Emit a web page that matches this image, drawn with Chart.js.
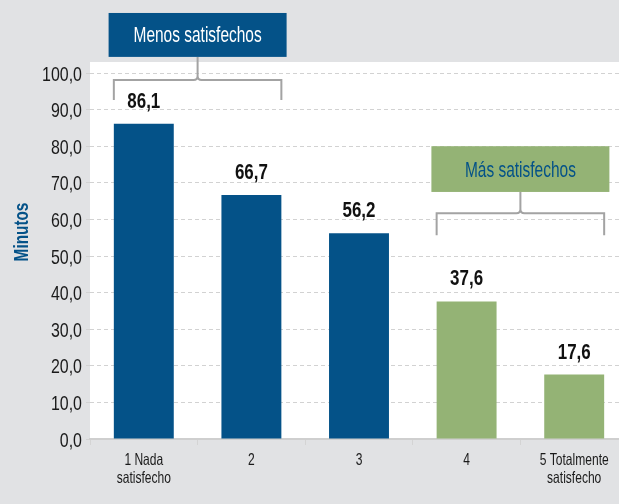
<!DOCTYPE html>
<html>
<head>
<meta charset="utf-8">
<script src="https://cdn.jsdelivr.net/npm/chart.js@4/dist/chart.umd.min.js"></script>
<style>
  html, body { margin: 0; padding: 0; background: #e1e2e4; overflow: hidden; }
  #wrap { width: 619px; height: 504px; overflow: hidden; }
  canvas { display: block; }
</style>
</head>
<body>
<div id="wrap"><canvas id="c" width="629" height="504"></canvas></div>
<script>
// Minutos por nivel de satisfacción
const categories = [["1 Nada", "satisfecho"], "2", "3", "4", ["5 Totalmente", "satisfecho"]];
const minutos = [86.1, 66.7, 56.2, 37.6, 17.6];
const yTicks = [0, 10, 20, 30, 40, 50, 60, 70, 80, 90, 100];
const groupLabels = ["Menos satisfechos", "Más satisfechos"];
const groupFirst = [0, 3];
const groupLast = [1, 4];

const BLUE = "#045288";
const GREEN = "#94b375";
const FONT = "'Liberation Sans', Arial, sans-serif";

const fmt = v => v.toFixed(1).replace(".", ",");

// condensed text: Liberation Sans squeezed horizontally
function narrowText(ctx, text, x, y, font, sx, align) {
  ctx.save();
  ctx.translate(x, y);
  ctx.scale(sx, 1);
  ctx.font = font;
  ctx.textAlign = align || "center";
  ctx.textBaseline = "alphabetic";
  ctx.fillText(text, 0, 0);
  ctx.restore();
}

const panel = {
  id: "panel",
  beforeDraw(chart) {
    const { ctx, chartArea: a, width, height } = chart;
    ctx.save();
    ctx.fillStyle = "#e1e2e4";
    ctx.fillRect(0, 0, width, height);
    ctx.fillStyle = "#ffffff";
    ctx.fillRect(a.left, a.top - 11, width - a.left, a.bottom - a.top + 11);
    ctx.restore();
  }
};

const overlay = {
  id: "overlay",
  afterDraw(chart) {
    const { ctx } = chart;
    const x = chart.scales.x;
    const y = chart.scales.y;
    const bars = chart.getDatasetMeta(0).data;
    ctx.save();

    // y tick labels
    ctx.fillStyle = "#1a1a1a";
    y.ticks.forEach(t => {
      narrowText(ctx, fmt(t.value), 82, y.getPixelForValue(t.value) + 7.5, "21px " + FONT, 0.76, "right");
    });

    // x category labels
    categories.forEach((c, i) => {
      const lines = Array.isArray(c) ? c : [c];
      const cx = x.getPixelForTick(i);
      lines.forEach((ln, k) => narrowText(ctx, ln, cx, 465 + k * 18, "16.5px " + FONT, 0.73, "center"));
    });

    // value labels
    ctx.fillStyle = "#111";
    bars.forEach((b, i) => narrowText(ctx, fmt(minutos[i]), b.x, b.y - 16, "bold 22px " + FONT, 0.77, "center"));

    // group brackets + boxes
    const geo = [
      { boxTop: 116.4, boxBot: 104.4, bar: 98.1, end: 92.6, fill: BLUE, text: "#ffffff" },
      { boxTop: 80.0, boxBot: 67.5, bar: 61.7, end: 55.7, fill: GREEN, text: BLUE }
    ];
    groupLabels.forEach((label, g) => {
      const s = geo[g];
      const b0 = bars[groupFirst[g]], b1 = bars[groupLast[g]];
      const xl = b0.x - b0.width / 2, xr = b1.x + b1.width / 2;
      const xm = (xl + xr) / 2;
      const yBar = y.getPixelForValue(s.bar);
      const yEnd = y.getPixelForValue(s.end);
      const yTop = y.getPixelForValue(s.boxTop);
      const yBot = y.getPixelForValue(s.boxBot);

      ctx.strokeStyle = "#a3a3a3";
      ctx.lineWidth = 2;
      ctx.beginPath();
      ctx.moveTo(xl, yEnd);
      ctx.lineTo(xl, yBar);
      ctx.lineTo(xm - 4, yBar);
      ctx.quadraticCurveTo(xm, yBar, xm, yBar - 4);
      ctx.quadraticCurveTo(xm, yBar, xm + 4, yBar);
      ctx.lineTo(xr, yBar);
      ctx.lineTo(xr, yEnd);
      ctx.moveTo(xm, yBar - 4);
      ctx.lineTo(xm, yBot);
      ctx.stroke();

      const w = 178;
      ctx.fillStyle = s.fill;
      ctx.fillRect(xm - w / 2, yTop, w, yBot - yTop);
      ctx.fillStyle = s.text;
      narrowText(ctx, label, xm, (yTop + yBot) / 2 + 7.5, "21.5px " + FONT, 0.72, "center");
    });

    // axis title
    ctx.save();
    ctx.translate(28, 232);
    ctx.rotate(-Math.PI / 2);
    ctx.fillStyle = BLUE;
    narrowText(ctx, "Minutos", 0, 0, "bold 21px " + FONT, 0.73, "center");
    ctx.restore();

    ctx.restore();
  }
};

new Chart(document.getElementById("c"), {
  type: "bar",
  data: {
    labels: categories,
    datasets: [{
      data: minutos,
      backgroundColor: minutos.map((_, i) => i < 3 ? BLUE : GREEN),
      borderWidth: 0,
      categoryPercentage: 1,
      barPercentage: 0.557
    }]
  },
  options: {
    responsive: false,
    devicePixelRatio: 1,
    animation: false,
    layout: { padding: { left: 0, top: 73, right: 1, bottom: 0 } },
    plugins: { legend: { display: false }, tooltip: { enabled: false } },
    scales: {
      x: {
        offset: true,
        afterFit: s => { s.height = 65; },
        border: { display: true, color: "#cfcfcf", width: 2 },
        grid: { offset: true, drawOnChartArea: false, drawTicks: true, tickLength: 6, color: "#d4d4d4", lineWidth: 1 },
        ticks: { display: false }
      },
      y: {
        min: 0, max: 100,
        afterFit: s => { s.width = 90; },
        afterBuildTicks: s => { s.ticks = yTicks.map(v => ({ value: v })); },
        border: { display: false, dash: [4, 3] },
        grid: { color: "#d2d2d2", lineWidth: 1, drawTicks: true, tickLength: 4, tickBorderDash: [4, 3], tickColor: "#d2d2d2" },
        ticks: { display: false }
      }
    }
  },
  plugins: [panel, overlay]
});
</script>
</body>
</html>
